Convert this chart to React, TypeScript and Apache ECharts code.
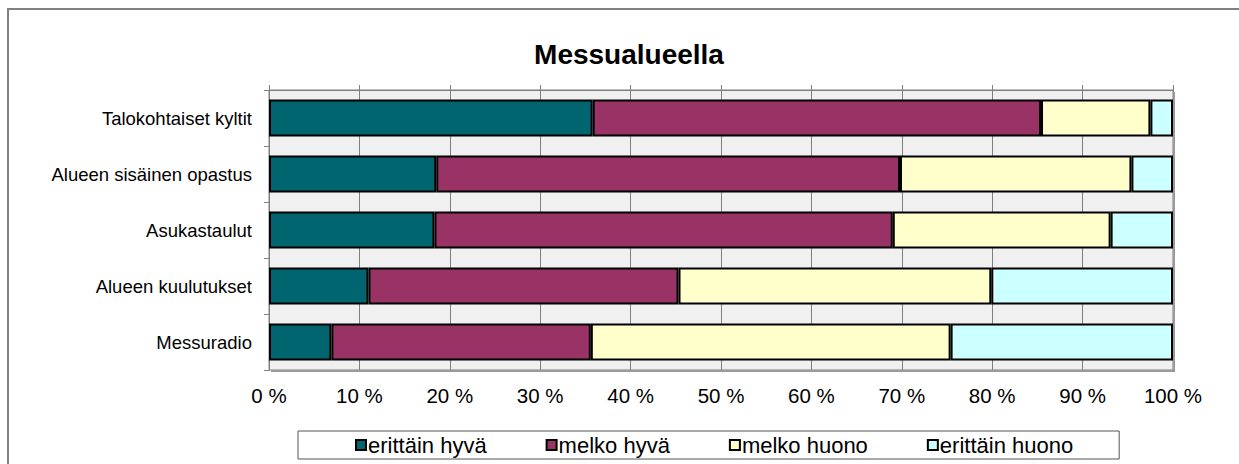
import React, { useEffect, useRef } from "react";
import * as echarts from "echarts";

const categories = [
  "Talokohtaiset kyltit",
  "Alueen sisäinen opastus",
  "Asukastaulut",
  "Alueen kuulutukset",
  "Messuradio",
];
const seriesNames = ["erittäin hyvä", "melko hyvä", "melko huono", "erittäin huono"];
const erittainHyva = [35.8, 18.5, 18.3, 11.0, 6.9];
const melkoHyva = [49.6, 51.3, 50.7, 34.3, 28.7];
const melkoHuono = [12.1, 25.6, 24.1, 34.6, 39.8];
const erittainHuono = [2.5, 4.6, 6.9, 20.1, 24.6];
const colors = ["#00656F", "#993366", "#FFFFCC", "#CCFFFF"];

const W = 1239;
const H = 464;
const PL = 269;
const PR = 1173;
const PT = 90;
const PB = 370;
const FONT = "'Liberation Sans', Arial, sans-serif";

export default function App() {
  const ref = useRef<HTMLDivElement>(null);
  useEffect(() => {
    if (!ref.current) return;
    const chart = echarts.init(ref.current, undefined, { renderer: "svg" });
    const values = [erittainHyva, melkoHyva, melkoHuono, erittainHuono];
    chart.setOption({
      animation: false,
      backgroundColor: "#ffffff",
      textStyle: { fontFamily: FONT },
      title: {
        text: "Messualueella",
        left: 624,
        top: 35,
        textAlign: "center",
        textStyle: { fontFamily: FONT, fontWeight: "bold", fontSize: 28, color: "#000" },
      },
      grid: {
        left: PL,
        right: W - PR,
        top: PT,
        bottom: H - PB,
        show: true,
        backgroundColor: "#F0F0F0",
        borderColor: "#808080",
        borderWidth: 1,
      },
      legend: {
        left: 298,
        top: 431,
        data: seriesNames,
        icon: "rect",
        itemWidth: 10,
        itemHeight: 10,
        itemGap: 59,
        padding: [3, 46, 3, 57],
        borderColor: "#555",
        borderWidth: 1,
        backgroundColor: "#fff",
        textStyle: { fontFamily: FONT, fontSize: 22, color: "#000", padding: [0, 0, 0, -3] },
      },
      xAxis: [
        {
          type: "value",
          position: "bottom",
          min: 0,
          max: 100,
          interval: 10,
          axisLine: { show: false },
          axisTick: { show: false },
          splitLine: { show: true, lineStyle: { color: "#808080", width: 1 } },
          axisLabel: {
            formatter: "{value} %",
            fontFamily: FONT,
            fontSize: 20.5,
            color: "#000",
            margin: 15,
          },
        },
        {
          type: "value",
          position: "top",
          min: 0,
          max: 100,
          interval: 10,
          axisLine: { show: true, lineStyle: { color: "#808080", width: 1 } },
          axisTick: { show: true, length: 5, lineStyle: { color: "#808080" } },
          axisLabel: { show: false },
          splitLine: { show: false },
        },
      ],
      yAxis: {
        type: "category",
        inverse: true,
        data: categories,
        axisLine: { show: true, lineStyle: { color: "#808080", width: 1 } },
        axisTick: { show: true, length: 5, lineStyle: { color: "#808080" } },
        axisLabel: { fontFamily: FONT, fontSize: 18.5, color: "#000", margin: 17 },
        splitLine: { show: false },
      },
      series: values.map((v, i) => ({
        name: seriesNames[i],
        type: "bar",
        stack: "total",
        xAxisIndex: 0,
        data: v,
        barCategoryGap: "34%",
        itemStyle: { color: colors[i], borderColor: "#000", borderWidth: 2 },
        emphasis: { disabled: true },
      })),
      graphic: [
        {
          type: "rect",
          shape: { x: 8, y: 9, width: 1300, height: 500 },
          style: { fill: "none", stroke: "#808080", lineWidth: 2 },
          silent: true,
        },
        {
          type: "polyline",
          shape: {
            points: [
              [PR + 1, PT + 2],
              [PR + 1, PB + 1],
              [PL + 2, PB + 1],
            ],
          },
          style: { fill: "none", stroke: "#9a9a9a", lineWidth: 2 },
          silent: true,
          z: 100,
        },
      ],
    });
    return () => chart.dispose();
  }, []);
  return (
    <div
      ref={ref}
      style={{ position: "fixed", left: 0, top: 0, width: W, height: H }}
    />
  );
}
